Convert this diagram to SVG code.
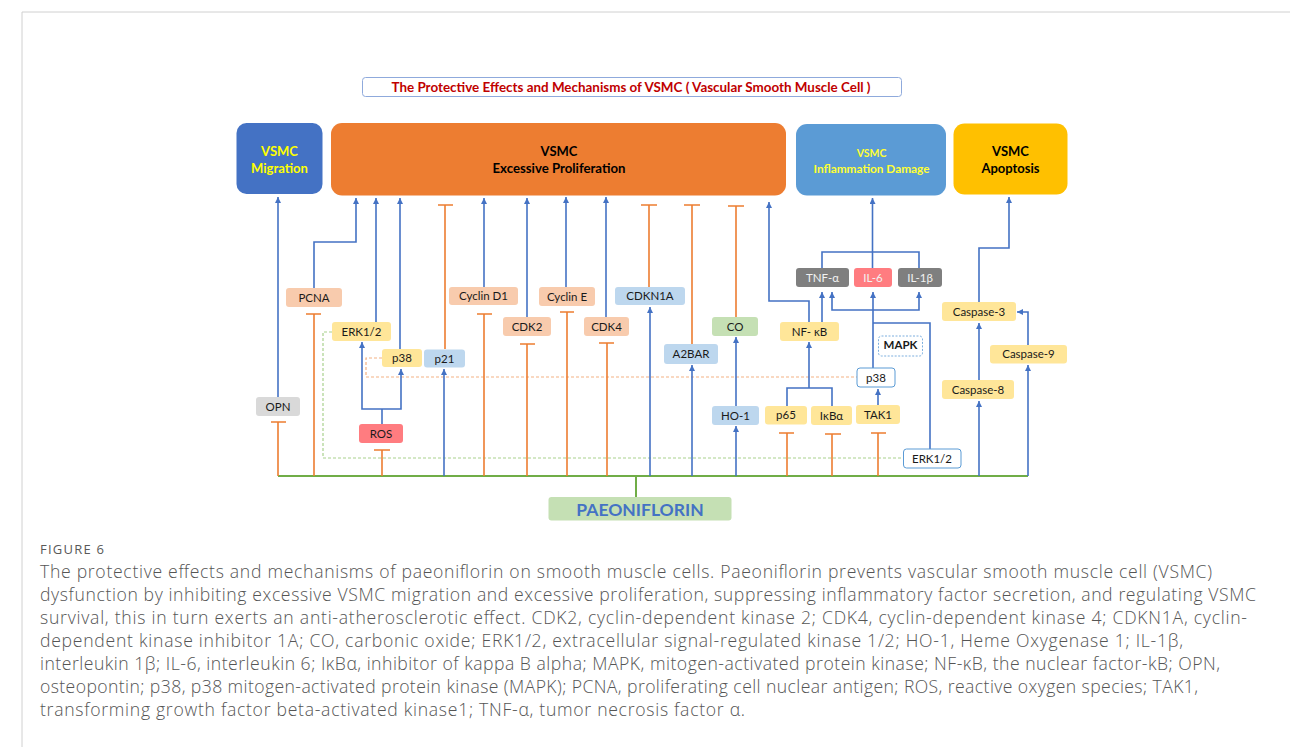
<svg xmlns="http://www.w3.org/2000/svg" width="1290" height="747" viewBox="0 0 1290 747">
<style>
.b{stroke:#4472c4;stroke-width:1.6;fill:none}
.a{marker-end:url(#ah)}
.o{stroke:#ed7d31;stroke-width:1.6;fill:none}
.gl{stroke:#70ad47;stroke-width:2;fill:none}
.gd{stroke:#a9d18e;stroke-width:1.2;stroke-dasharray:3 2;fill:none}
.od{stroke:#f4b183;stroke-width:1.2;stroke-dasharray:3 2;fill:none}
.nt{font-family:Lato,"Liberation Sans",sans-serif;font-size:11.5px;fill:#1a1a1a;text-anchor:middle}
.wt{fill:#f2f2f2}
.hd{font-family:Lato,"Liberation Sans",sans-serif;font-weight:bold;text-anchor:middle}
.cap{font-family:"Open Sans","Noto Sans",sans-serif;font-weight:300;font-size:17.6px;fill:#555}
.s{fill:#f8cbad}.y{fill:#ffe699}.lb{fill:#bdd7ee}
</style>
<defs>
<marker id="ah" viewBox="0 0 6 6" refX="6" refY="3" markerWidth="6" markerHeight="6" markerUnits="userSpaceOnUse" orient="auto">
<path d="M0,0 L6,3 L0,6 z" fill="#4472c4"/>
</marker>
</defs>
<rect width="1290" height="747" fill="#fff"/>
<path d="M22,747 V12 H1290" stroke="#d0d0d0" stroke-width="1" fill="none"/>

<g id="title">
<rect x="362.5" y="77.5" width="539" height="19" rx="3" fill="#fff" stroke="#8faadc" stroke-width="1"/>
<text x="631" y="91.5" class="hd" font-size="12.5px" fill="#c00000" textLength="479" lengthAdjust="spacingAndGlyphs">The Protective Effects and Mechanisms of VSMC ( Vascular Smooth Muscle Cell )</text>
</g>

<g id="migration">
<rect x="236.5" y="123" width="86" height="71" rx="10" fill="#4472c4"/>
<text x="279.5" y="155.5" class="hd" font-size="13px" fill="#ffff00">VSMC</text>
<text x="279.5" y="172.5" class="hd" font-size="13px" fill="#ffff00">Migration</text>
</g>
<g id="proliferation">
<rect x="331" y="123" width="455" height="72.5" rx="11" fill="#ed7d31"/>
<text x="559" y="155.5" class="hd" font-size="13px" fill="#000">VSMC</text>
<text x="559" y="172.5" class="hd" font-size="13px" fill="#000" textLength="133" lengthAdjust="spacingAndGlyphs">Excessive Proliferation</text>
</g>
<g id="inflammation">
<rect x="796" y="124" width="150" height="71.5" rx="11" fill="#5b9bd5"/>
<text x="871.5" y="157" class="hd" font-size="10.5px" fill="#ffff33">VSMC</text>
<text x="871.5" y="172.5" class="hd" font-size="10.5px" fill="#ffff33" textLength="116" lengthAdjust="spacingAndGlyphs">Inflammation Damage</text>
</g>
<g id="apoptosis">
<rect x="953.5" y="123.5" width="114" height="71" rx="11" fill="#ffc000"/>
<text x="1010.5" y="155.5" class="hd" font-size="13px" fill="#000">VSMC</text>
<text x="1010.5" y="172.5" class="hd" font-size="13px" fill="#000">Apoptosis</text>
</g>

<g id="connectors">
<path class="gl" d="M278,476 H1028 M636,476 V497"/>
<path class="gd" d="M332,332 H323 V458 H903"/>
<path class="od" d="M382,358 H366 V377 H857"/>
<path class="b a" d="M278,397 V197"/>
<path class="b a" d="M314,288 V242 H356 V198"/>
<path class="b a" d="M376,322 V198"/>
<path class="b a" d="M400,349 V198"/>
<path class="b a" d="M484,287 V198"/>
<path class="b a" d="M527,317 V198"/>
<path class="b a" d="M566,287 V197"/>
<path class="b a" d="M606,317 V197"/>
<path class="b a" d="M809,322 V301 H769 V202"/>
<path class="b a" d="M822,322 V292"/>
<path class="b a" d="M872.5,268 V198"/>
<path class="b" d="M822,268 V252 H919 V268"/>
<path class="b a" d="M873,368 V292"/>
<path class="b a" d="M873,310 H832 V292"/>
<path class="b a" d="M873,310 H919 V292"/>
<path class="b" d="M930,449 V323 H873"/>
<path class="b" d="M382,424 V409"/>
<path class="b a" d="M382,409 H362 V342"/>
<path class="b a" d="M382,409 H401 V369"/>
<path class="b a" d="M444,476 V369"/>
<path class="b a" d="M650,476 V307"/>
<path class="b a" d="M692,476 V365"/>
<path class="b a" d="M736,476 V426"/>
<path class="b a" d="M736,406 V337"/>
<path class="b" d="M787,406 V388 H832 V406"/>
<path class="b a" d="M809,388 V342"/>
<path class="b a" d="M878,405 V389"/>
<path class="b a" d="M979,302 V248 H1009 V197"/>
<path class="b a" d="M1028,345 V312 H1017"/>
<path class="b a" d="M979,380 V323"/>
<path class="b a" d="M979,476 V401"/>
<path class="b a" d="M1028,476 V365"/>
<path class="o" d="M278,476 V422 M271,422 H286"/>
<path class="o" d="M314,476 V314 M306,314 H321"/>
<path class="o" d="M382,476 V450 M374,450 H390"/>
<path class="o" d="M445,349 V205 M438,205 H453"/>
<path class="o" d="M484,476 V314 M477,314 H492"/>
<path class="o" d="M527,476 V344 M520,344 H535"/>
<path class="o" d="M567,476 V312 M560,312 H574"/>
<path class="o" d="M607,476 V343 M599,343 H614"/>
<path class="o" d="M649,287 V205 M641,205 H657"/>
<path class="o" d="M692,344 V205 M684,205 H700"/>
<path class="o" d="M736,317 V206 M728,206 H744"/>
<path class="o" d="M787,476 V433 M779,433 H794"/>
<path class="o" d="M832,476 V434 M825,434 H841"/>
<path class="o" d="M878,476 V433 M871,433 H886"/>
</g>

<g id="opn"><rect x="256" y="397" width="44" height="19" rx="3" fill="#d9d9d9"/><text class="nt" x="278" y="410.5">OPN</text></g>
<g id="pcna"><rect x="286" y="288" width="56" height="19" rx="3" class="s"/><text class="nt" x="314" y="301.5">PCNA</text></g>
<g id="erk12-a"><rect x="332" y="322" width="59" height="19" rx="3" class="y"/><text class="nt" x="361.5" y="335.5">ERK1/2</text></g>
<g id="p38-a"><rect x="382" y="349" width="40" height="18" rx="3" class="y"/><text class="nt" x="402" y="362">p38</text></g>
<g id="p21"><rect x="424" y="349.5" width="41" height="18" rx="3" class="lb"/><text class="nt" x="444.5" y="362.5">p21</text></g>
<g id="ros"><rect x="359" y="424" width="44" height="19" rx="3" fill="#ff7c80"/><text class="nt" x="381" y="437.5">ROS</text></g>
<g id="cyclind1"><rect x="449" y="287" width="69" height="18" rx="3" class="s"/><text class="nt" x="483.5" y="300">Cyclin D1</text></g>
<g id="cdk2"><rect x="503" y="317" width="48" height="19" rx="3" class="s"/><text class="nt" x="527" y="330.5">CDK2</text></g>
<g id="cycline"><rect x="539" y="287" width="56" height="19" rx="3" class="s"/><text class="nt" x="567" y="300.5">Cyclin E</text></g>
<g id="cdk4"><rect x="584" y="317" width="45" height="19" rx="3" class="s"/><text class="nt" x="606.5" y="330.5">CDK4</text></g>
<g id="cdkn1a"><rect x="615" y="287" width="70" height="18" rx="3" class="lb"/><text class="nt" x="650" y="300">CDKN1A</text></g>
<g id="a2bar"><rect x="664" y="344" width="54" height="20" rx="3" class="lb"/><text class="nt" x="691" y="358">A2BAR</text></g>
<g id="co"><rect x="712" y="317" width="46" height="19" rx="3" fill="#c5e0b4"/><text class="nt" x="735" y="330.5">CO</text></g>
<g id="ho1"><rect x="712" y="406" width="47" height="19" rx="3" class="lb"/><text class="nt" x="735.5" y="419.5">HO-1</text></g>
<g id="nfkb"><rect x="780" y="322" width="59" height="19" rx="3" class="y"/><text class="nt" x="809.5" y="335.5">NF- κB</text></g>
<g id="p65"><rect x="765" y="406" width="42" height="18.5" rx="3" class="y"/><text class="nt" x="786" y="419">p65</text></g>
<g id="ikba"><rect x="811" y="406" width="41" height="19" rx="3" class="y"/><text class="nt" x="831.5" y="419.5">IκBα</text></g>
<g id="tak1"><rect x="856" y="405" width="44" height="19" rx="3" class="y"/><text class="nt" x="878" y="418.5">TAK1</text></g>
<g id="p38-b"><rect x="857" y="368" width="38" height="19" rx="3" fill="#fff" stroke="#5b9bd5" stroke-width="1"/><text class="nt" x="876" y="381.5">p38</text></g>
<g id="mapk"><rect x="878.5" y="336" width="44" height="20" rx="3" fill="#fff" stroke="#5b9bd5" stroke-width="0.8" stroke-dasharray="2 1.5"/><text class="nt" x="900.5" y="349" font-size="7px" font-weight="bold">MAPK</text></g>
<g id="erk12-b"><rect x="903.5" y="449" width="57.5" height="19" rx="3" fill="#fff" stroke="#5b9bd5" stroke-width="1"/><text class="nt" x="932" y="462.5">ERK1/2</text></g>
<g id="tnfa"><rect x="796" y="268" width="53" height="19" rx="3" fill="#7f7f7f"/><text class="nt wt" x="822.5" y="281.5">TNF-α</text></g>
<g id="il6"><rect x="854" y="268" width="38" height="19" rx="3" fill="#ff7c80"/><text class="nt wt" x="873" y="281.5">IL-6</text></g>
<g id="il1b"><rect x="898" y="268" width="44" height="19" rx="3" fill="#7f7f7f"/><text class="nt wt" x="920" y="281.5">IL-1β</text></g>
<g id="caspase3"><rect x="942" y="302" width="74" height="19" rx="3" class="y"/><text class="nt" x="979" y="315.5">Caspase-3</text></g>
<g id="caspase9"><rect x="990" y="345" width="77" height="18.5" rx="3" class="y"/><text class="nt" x="1028.5" y="358">Caspase-9</text></g>
<g id="caspase8"><rect x="942" y="380" width="72" height="19" rx="3" class="y"/><text class="nt" x="978" y="393.5">Caspase-8</text></g>
<g id="paeoniflorin"><rect x="548.5" y="497" width="183" height="23.5" rx="3" fill="#c5e0b4"/><text x="640" y="515.5" class="hd" font-size="17.5px" fill="#4472c4">PAEONIFLORIN</text></g>

<g id="caption">
<text x="40" y="554" font-family="'Open Sans','Noto Sans',sans-serif" font-size="13px" fill="#595959" textLength="64">FIGURE 6</text>
<text class="cap" x="40" y="578" textLength="1172">The protective effects and mechanisms of paeoniflorin on smooth muscle cells. Paeoniflorin prevents vascular smooth muscle cell (VSMC)</text>
<text class="cap" x="40" y="601" textLength="1216">dysfunction by inhibiting excessive VSMC migration and excessive proliferation, suppressing inflammatory factor secretion, and regulating VSMC</text>
<text class="cap" x="40" y="624" textLength="1207">survival, this in turn exerts an anti-atherosclerotic effect. CDK2, cyclin-dependent kinase 2; CDK4, cyclin-dependent kinase 4; CDKN1A, cyclin-</text>
<text class="cap" x="40" y="647" textLength="1143">dependent kinase inhibitor 1A; CO, carbonic oxide; ERK1/2, extracellular signal-regulated kinase 1/2; HO-1, Heme Oxygenase 1; IL-1β,</text>
<text class="cap" x="40" y="670" textLength="1180">interleukin 1β; IL-6, interleukin 6; IκBα, inhibitor of kappa B alpha; MAPK, mitogen-activated protein kinase; NF-κB, the nuclear factor-kB; OPN,</text>
<text class="cap" x="40" y="693" textLength="1158">osteopontin; p38, p38 mitogen-activated protein kinase (MAPK); PCNA, proliferating cell nuclear antigen; ROS, reactive oxygen species; TAK1,</text>
<text class="cap" x="40" y="716" textLength="705">transforming growth factor beta-activated kinase1; TNF-α, tumor necrosis factor α.</text>
</g>
</svg>
